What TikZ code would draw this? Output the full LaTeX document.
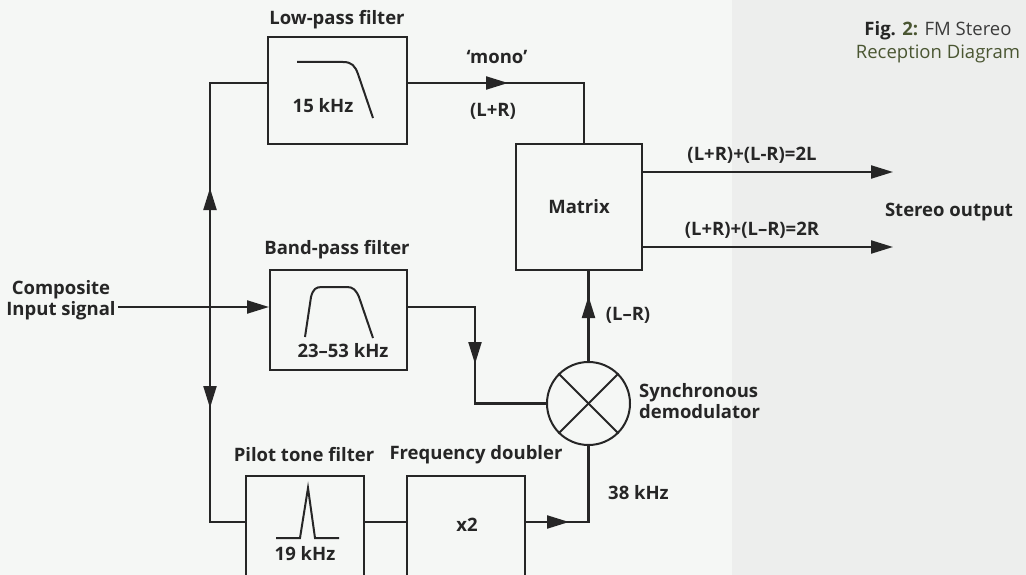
\documentclass[tikz,border=0pt]{standalone}
\usepackage{fontspec}
\setmainfont{Open Sans}
\usepackage{tikz}
\usetikzlibrary{arrows.meta, decorations.markings}

\definecolor{paperc}{RGB}{245,247,245}
\definecolor{sidec}{RGB}{237,238,237}
\definecolor{inkc}{RGB}{38,38,38}
\definecolor{olivec}{RGB}{74,86,50}
\definecolor{greyc}{RGB}{60,60,60}

\begin{document}
\begin{tikzpicture}[
    x=1pt, y=-1pt,
    block/.style={draw=inkc, line width=2pt, minimum width=137pt, minimum height=100pt, inner sep=0pt},
    lbl/.style={font=\bfseries\fontsize{18.5}{20.5}\selectfont, text=inkc, inner sep=2pt},
    wire/.style={draw=inkc, line width=2.2pt},
    glyph/.style={draw=inkc, line width=2pt},
    tipend/.style={-{Triangle[length=22pt,width=13pt]}},
    midtip/.style={postaction={decorate}, decoration={markings,
        mark=at position #1pt with {\arrow{Triangle[length=22pt,width=13pt]}}}}
]
    \useasboundingbox (0,0) rectangle (1026,575);
    \clip (0,0) rectangle (1026,575);
    \fill[paperc] (0,0) rectangle (1026,575);
    \fill[sidec] (732,0) rectangle (1026,575);

    % --- Blocks ---
    \node[block, minimum width=139pt, minimum height=107pt] (lowpass) at (337.5,90.5) {};
    \node[block] (bandpass) at (338.5,320) {};
    \node[block, minimum width=126pt, minimum height=126pt, lbl] (mtx) at (579,207) {Matrix};
    \node[circle, draw=inkc, line width=2pt, minimum size=83pt, inner sep=0pt] (demod) at (588.5,403.5) {};
    \node[block, minimum width=118pt, minimum height=114pt] (pilot) at (305,533) {};
    \node[block, minimum width=118pt, minimum height=114pt] (doubler) at (466,533) {};

    % --- Titles and texts ---
    \node[lbl] (lptitle) at (337,20) {Low-pass filter};
    \node[lbl] (lpfreq) at (323,106) {15 kHz};
    \node[lbl] (bptitle) at (337,250) {Band-pass filter};
    \node[lbl] (bpfreq) at (343,351) {23–53 kHz};
    \node[lbl] (pttitle) at (304,455) {Pilot tone filter};
    \node[lbl] (ptfreq) at (305,554) {19 kHz};
    \node[lbl] (fdtitle) at (476,455) {Frequency doubler};
    \node[lbl] (fdtext) at (467,525) {x2};
    \node[lbl, align=center] (input) at (61,300) {Composite\\Input signal};
    \node[lbl] (mono) at (497,57) {‘mono’};
    \node[lbl] (sum) at (493,111) {(L+R)};
    \node[lbl] (diff) at (628,315) {(L–R)};
    \node[lbl, align=left, anchor=west] (demodlbl) at (637,401) {Synchronous\\demodulator};
    \node[lbl, anchor=west] (carrier) at (606,493) {38 kHz};
    \node[lbl] (leftlbl) at (752,155) {(L+R)+(L-R)=2L};
    \node[lbl] (rightlbl) at (752,230) {(L+R)+(L–R)=2R};
    \node[lbl] (stereo) at (949,212) {Stereo output};
    \node[font=\fontsize{18.5}{23}\selectfont, text=greyc, align=center] (caption) at (938,42)
        {\textbf{\color{inkc}Fig.} \textbf{\color{olivec}2:} FM Stereo\\\color{olivec}Reception Diagram};

    % --- Filter curves ---
    \draw[glyph] (297,62) -- (343,62) .. controls (352,62) and (355,66) .. (358,74) -- (373,118);
    \draw[glyph] (305,337) -- (311,297) .. controls (313,289) and (316,287) .. (322,287) -- (347,287)
        .. controls (353,287) and (356,290) .. (359,297) -- (373,338);
    \draw[glyph] (276,538) -- (300,538) -- (308,488) -- (315,538) -- (339,538);
    \draw[glyph] (demod.north west) -- (demod.south east);
    \draw[glyph] (demod.north east) -- (demod.south west);

    % --- Junctions ---
    \coordinate (jin) at (210,307);
    \coordinate (jtop) at (210,83);
    \coordinate (jbot) at (210,522);
    \coordinate (monoc) at (584,83);
    \coordinate (bpc) at (475,307);
    \coordinate (out1) at (893,172);
    \coordinate (out2) at (893,247);

    % --- Connections ---
    \draw[wire, tipend] (input.east |- jin) -- (jin -| bandpass.west);
    \draw[wire, midtip=119] (jin) -- (jtop) -- (jtop -| lowpass.west);
    \draw[wire, midtip=101] (jin) -- (jbot) -- (jbot -| pilot.west);
    \draw[wire, midtip=100] (jtop -| lowpass.east) -- (monoc) -- (monoc |- mtx.north);
    \draw[wire, midtip=124] (jin -| bandpass.east) -- (bpc) -- (bpc |- demod) -- (demod.west);
    \draw[wire] (jbot -| pilot.east) -- (jbot -| doubler.west);
    \draw[wire, midtip=43] (jbot -| doubler.east) -- (jbot -| demod.south) -- (demod.south);
    \draw[wire, midtip=65] (demod.north) -- (demod.north |- mtx.south);
    \draw[wire, tipend] ([yshift=35pt]mtx.east) -- (out1);
    \draw[wire, tipend] ([yshift=-40pt]mtx.east) -- (out2);
\end{tikzpicture}
\end{document}
